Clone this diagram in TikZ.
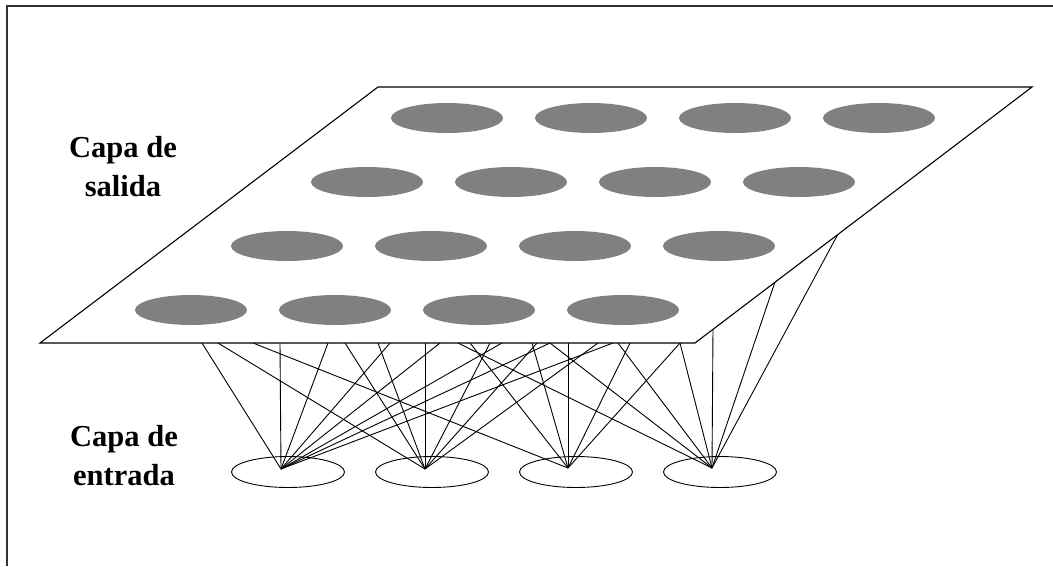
\documentclass[tikz,border=0pt]{standalone}
\usepackage{fontspec}
\setmainfont{Liberation Serif}
\usepackage{tikz}
\usetikzlibrary{shapes.geometric}
\colorlet{neuronGray}{black!50}
\tikzset{
  frame/.style={draw=black!80, line width=1.8pt},
  plane/.style={draw=black, fill=white, line width=1.1pt, line join=miter},
  outneuron/.style={
    ellipse,
    fill=neuronGray,
    draw=none,
    minimum width=112pt,
    minimum height=30pt,
    inner sep=0pt
  },
  inneuron/.style={
    ellipse,
    draw=black,
    line width=0.9pt,
    minimum width=113pt,
    minimum height=31pt,
    inner sep=0pt
  },
  link/.style={draw=black, line width=0.9pt},
  layerlabel/.style={
    align=center,
    font=\fontsize{30.5}{39}\selectfont\bfseries
  }
}
\begin{document}
\begin{tikzpicture}[x=1pt,y=-1pt]
\useasboundingbox (0,0) rectangle (1053,566);

% frame (only top and left edge visible)
\draw[frame] (1053,6) -- (7,6) -- (7,566);

% input layer
\foreach \i/\cx in {1/288,2/432,3/576,4/720}
  \node[inneuron] (in\i) at (\cx,472) {};
\coordinate (a1) at (281,469);
\coordinate (a2) at (425,469);
\coordinate (a3) at (568,468);
\coordinate (a4) at (712,468);

% end points of the links on the rim of the output plane
\foreach \n/\ex in {202/202,218/218,253/253,280/280,328/328,345/345,378/378,
                    390/390,425/425,440/440,458/458,470/470,490/490,502/502,
                    532/532,537/537,550/550,568/568,598/598,613/613,618/618,
                    630/630,680/680}
  \coordinate (e\n) at (\ex,343);
\coordinate (r1) at (713,329);
\coordinate (r2) at (775,282);
\coordinate (r3) at (838,234);

% connections input -> output layer
\foreach \t in {202,280,328,390,440,502,550,613}
  \draw[link] (a1) -- (e\t);
\foreach \t in {218,345,378,425,490,537,598}
  \draw[link] (a2) -- (e\t);
\foreach \t in {253,470,532,568,630,680}
  \draw[link] (a3) -- (e\t);
\foreach \t in {458,550,618,680}
  \draw[link] (a4) -- (e\t);
\foreach \t in {r1,r2,r3}
  \draw[link] (a4) -- (\t);

% output layer (Kohonen map)
\coordinate (pbl) at (40,343);
\coordinate (pbr) at (695,343);
\coordinate (ptr) at (1032,87);
\coordinate (ptl) at (378,87);
\draw[plane] (pbl) -- (pbr) -- (ptr) -- (ptl) -- cycle;

\foreach \r/\y/\x in {1/118/447,2/182/367,3/246/287,4/310/191}
  \foreach \c in {1,...,4}
    \node[outneuron] (o\r\c) at ({\x+144*(\c-1)},\y) {};

% labels
\node[layerlabel] (outlab) at (123,167) {Capa de\\salida};
\node[layerlabel] (inlab) at (124,456) {Capa de\\entrada};

\end{tikzpicture}
\end{document}
